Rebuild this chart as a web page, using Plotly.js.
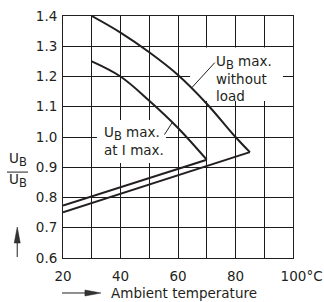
<!DOCTYPE html>
<html>
<head>
<meta charset="utf-8">
<script src="https://cdn.plot.ly/plotly-3.0.1.min.js"></script>
<style>html,body{margin:0;padding:0;background:#fff;}</style>
</head>
<body>
<div id="chart" style="width:324px;height:302px;"></div>
<script>
// ---- data ----
const tempNoLoad = [30, 40, 50, 60, 70, 80, 85];
const ubNoLoad   = [1.40, 1.345, 1.28, 1.205, 1.11, 1.00, 0.95];
const rampNoLoadTemp = [20, 85];
const rampNoLoadUb   = [0.751, 0.95];

const tempAtImax = [30, 40, 50, 60, 70];
const ubAtImax   = [1.25, 1.20, 1.12, 1.03, 0.925];
const rampAtImaxTemp = [20, 70];
const rampAtImaxUb   = [0.773, 0.925];

const xTickVals  = [20, 40, 60, 80, 100];
const xTickText  = ['20', '40', '60', '80', '\u00a0\u00a0\u00a0\u00a0100°C'];
const xMinorVals = [30, 50, 70, 90];
const yTickVals = [0.6, 0.7, 0.8, 0.9, 1.0, 1.1, 1.2, 1.3, 1.4];
const yTickText = ['0.6', '0.7', '0.8', '0.9', '1.0', '1.1', '1.2', '1.3', '1.4'];

const SUB_B = '<sub><span style="font-size:11.5px">B</span></sub>';
const labelNoLoad = 'U' + SUB_B + ' max.<br>without<br>load';
const labelAtImax = 'U' + SUB_B + ' max.<br>at I max.';
const yLabel = 'U' + SUB_B;
const xLabel = 'Ambient temperature';

// ---- styles ----
const ink = '#231f20';
const gridInk = '#1a1a1a';
const FONT = 'DejaVu Sans, sans-serif';
const lineStyle = {color: ink, width: 2};

const traces = [
  {x: tempNoLoad, y: ubNoLoad, mode: 'lines', line: Object.assign({shape: 'spline'}, lineStyle), hoverinfo: 'skip'},
  {x: rampNoLoadTemp, y: rampNoLoadUb, mode: 'lines', line: lineStyle, hoverinfo: 'skip'},
  {x: tempAtImax, y: ubAtImax, mode: 'lines', line: Object.assign({shape: 'spline'}, lineStyle), hoverinfo: 'skip'},
  {x: rampAtImaxTemp, y: rampAtImaxUb, mode: 'lines', line: lineStyle, hoverinfo: 'skip'}
];

const axisCommon = {
  showline: true, mirror: true, linecolor: ink, linewidth: 1,
  showgrid: true, gridcolor: gridInk, gridwidth: 1,
  zeroline: false, ticks: '', fixedrange: true,
  tickfont: {family: FONT, size: 13.5, color: ink}
};

const leader = {type: 'line', xref: 'x', yref: 'y', line: {color: ink, width: 1}, layer: 'above'};

const layout = {
  width: 324, height: 302,
  margin: {l: 63, r: 31, t: 16, b: 44},
  paper_bgcolor: '#fff', plot_bgcolor: '#fff',
  showlegend: false,
  font: {family: FONT, size: 13.5, color: ink},
  xaxis: Object.assign({}, axisCommon, {
    range: [20, 100], tickmode: 'array', tickvals: xTickVals, ticktext: xTickText,
    ticklabelstandoff: 6,
    minor: {tickmode: 'array', tickvals: xMinorVals, showgrid: true, gridcolor: gridInk, gridwidth: 1, ticks: ''}
  }),
  yaxis: Object.assign({}, axisCommon, {
    range: [0.6, 1.4], tickmode: 'array', tickvals: yTickVals, ticktext: yTickText,
    ticklabelstandoff: 2
  }),
  shapes: [
    // white masks that interrupt the grid behind the labels (below the curves)
    {type: 'rect', xref: 'x', yref: 'y', x0: 64.2, x1: 96.5, y0: 1.119, y1: 1.296,
     fillcolor: '#fff', line: {width: 0}, layer: 'between'},
    {type: 'rect', xref: 'x', yref: 'y', x0: 31.8, x1: 55.8, y0: 0.914, y1: 1.056,
     fillcolor: '#fff', line: {width: 0}, layer: 'between'},
    // leader lines from the labels to the curves
    Object.assign({x0: 64.8, y0: 1.163, x1: 72.8, y1: 1.246}, leader),
    Object.assign({x0: 58.0, y0: 1.048, x1: 55.3, y1: 1.008}, leader),
    // fraction bar of the y label
    {type: 'line', xref: 'paper', yref: 'paper', x0: -0.2435, x1: -0.152, y0: 0.355, y1: 0.355,
     line: {color: ink, width: 1}},
    // upward arrow (shaft + head)
    {type: 'line', xref: 'paper', yref: 'paper', x0: -0.199, x1: -0.199, y0: 0.004, y1: 0.08,
     line: {color: ink, width: 1}},
    {type: 'path', xref: 'paper', yref: 'paper', xsizemode: 'pixel', ysizemode: 'pixel',
     xanchor: -0.199, yanchor: 0.128, path: 'M0,0 L-3,-16 L3,-16 Z',
     fillcolor: '#333', line: {color: ink, width: 0.5}},
    // rightward arrow (shaft + head)
    {type: 'line', xref: 'paper', yref: 'paper', x0: -0.0043, x1: 0.11, y0: -0.1446, y1: -0.1446,
     line: {color: ink, width: 1}},
    {type: 'path', xref: 'paper', yref: 'paper', xsizemode: 'pixel', ysizemode: 'pixel',
     xanchor: 0.165, yanchor: -0.1446, path: 'M0,0 L-16,3 L-16,-3 Z',
     fillcolor: '#333', line: {color: ink, width: 0.5}}
  ],
  annotations: [
    {xref: 'x', yref: 'y', x: 72.6, y: 1.284, xanchor: 'left', yanchor: 'top', align: 'left',
     text: labelNoLoad, showarrow: false, font: {family: FONT, size: 13.5, color: ink}},
    {xref: 'x', yref: 'y', x: 33.6, y: 1.05, xanchor: 'left', yanchor: 'top', align: 'left',
     text: labelAtImax, showarrow: false, font: {family: FONT, size: 13.5, color: ink}},
    // y label (fraction)
    {xref: 'paper', yref: 'paper', x: -0.196, y: 0.405, xanchor: 'center', yanchor: 'middle',
     text: yLabel, showarrow: false, font: {family: FONT, size: 13.5, color: ink}},
    {xref: 'paper', yref: 'paper', x: -0.196, y: 0.322, xanchor: 'center', yanchor: 'middle',
     text: yLabel, showarrow: false, font: {family: FONT, size: 13.5, color: ink}},
    // x label
    {xref: 'paper', yref: 'paper', x: 0.526, y: -0.1446, xanchor: 'center', yanchor: 'middle',
     text: xLabel, showarrow: false, font: {family: FONT, size: 13.5, color: ink}}
  ]
};

Plotly.newPlot('chart', traces, layout, {displayModeBar: false, staticPlot: true});
</script>
</body>
</html>
